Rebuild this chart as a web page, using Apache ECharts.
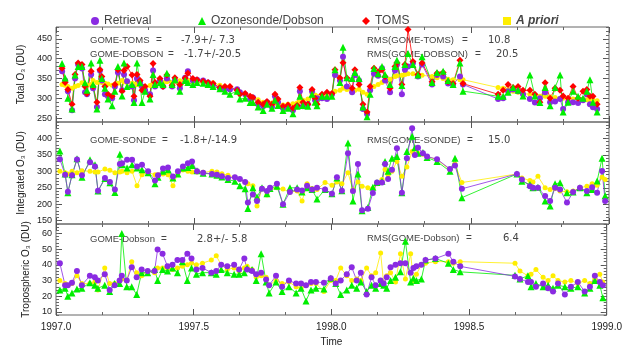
<!DOCTYPE html>
<html>
<head>
<meta charset="utf-8">
<script src="https://cdn.jsdelivr.net/npm/echarts@6/dist/echarts.min.js"></script>
<style>
  html, body { margin: 0; padding: 0; background: #fff; }
  #chart { width: 625px; height: 348px; }
</style>
</head>
<body>
<div id="chart"></div>
<script>
// total ozone panel: GOME retrieval, Dobson, TOMS, a priori
const TIME_TOT = [1997.022,1997.033,1997.043,1997.058,1997.069,1997.080,1997.094,1997.105,1997.112,1997.127,
  1997.134,1997.148,1997.159,1997.166,1997.177,1997.188,1997.203,1997.213,1997.224,1997.239,
  1997.246,1997.257,1997.275,1997.282,1997.293,1997.304,1997.311,1997.322,1997.340,1997.351,
  1997.358,1997.376,1997.387,1997.401,1997.420,1997.430,1997.448,1997.467,1997.477,1997.495,
  1997.510,1997.532,1997.550,1997.568,1997.593,1997.611,1997.629,1997.655,1997.665,1997.684,
  1997.702,1997.712,1997.731,1997.749,1997.763,1997.781,1997.792,1997.803,1997.821,1997.839,
  1997.857,1997.872,1997.882,1997.893,1997.911,1997.926,1997.937,1997.944,1997.962,1997.980,
  1997.998,1998.009,1998.027,1998.038,1998.052,1998.071,1998.081,1998.096,1998.110,1998.125,
  1998.136,1998.150,1998.165,1998.179,1998.190,1998.208,1998.226,1998.233,1998.251,1998.262,
  1998.273,1998.291,1998.309,1998.324,1998.360,1998.378,1998.400,1998.418,1998.436,1998.461,
  1998.472,1998.599,1998.617,1998.635,1998.653,1998.671,1998.689,1998.714,1998.732,1998.750,
  1998.769,1998.787,1998.805,1998.823,1998.834,1998.852,1998.870,1998.888,1998.906,1998.920,
  1998.931,1998.942,1998.957];
const RET_TOT = [368,345,318,270,350,385,375,315,310,360,
  325,278,370,345,310,305,300,330,365,320,
  360,343,330,295,350,340,330,320,310,370,
  330,345,330,350,330,345,325,352,368,345,
  347,345,340,335,325,323,322,323,315,310,
  298,302,285,280,290,278,305,290,275,278,
  270,280,318,280,285,318,295,300,300,298,
  310,359,345,405,330,315,359,345,273,260,
  320,362,357,376,345,315,370,385,310,372,
  380,389,355,385,335,359,355,337,335,355,
  335,298,300,318,322,318,310,298,289,300,
  315,290,292,298,273,290,290,288,295,310,
  285,277,273];
const SON_TOT = [388,351,300,273,359,380,380,339,320,389,
  335,273,396,350,325,298,281,318,380,306,
  389,330,335,289,389,339,289,318,298,360,
  335,339,335,363,335,347,318,345,340,335,
  340,338,335,330,324,318,310,318,298,300,
  289,289,278,269,285,275,295,282,269,275,
  261,280,305,282,280,310,290,281,305,305,
  305,372,340,429,352,350,365,350,278,253,
  310,375,362,380,360,335,380,396,332,385,
  413,385,359,405,340,365,368,345,335,389,
  318,305,305,315,327,320,306,359,306,289,
  327,281,327,359,265,290,318,305,300,318,
  347,290,265];
const TOMS_TOT = [376,340,322,285,360,389,385,330,312,368,
  330,290,372,355,330,310,305,335,372,318,
  370,380,359,305,360,345,320,330,305,388,
  340,350,330,359,333,352,335,351,363,350,
  347,343,340,337,327,330,330,320,310,312,
  305,302,290,285,292,285,310,298,280,283,
  275,282,327,290,285,322,300,285,310,315,
  312,372,351,390,351,325,372,335,285,265,
  330,376,367,372,355,325,380,390,335,385,
  474,393,360,389,342,363,365,342,337,396,
  337,310,320,335,327,330,320,320,310,290,
  339,300,325,320,306,300,330,300,318,322,
  305,305,285];
const APR_TOT = [335,333,330,325,330,332,339,335,333,335,
  345,340,342,340,338,336,333,335,338,345,
  342,340,338,336,335,333,330,330,332,335,
  336,338,340,342,340,342,344,345,345,342,
  340,340,339,339,333,330,326,320,315,310,
  305,300,296,290,290,288,287,285,283,285,
  286,288,292,295,298,312,308,305,303,305,
  308,318,320,325,322,318,320,323,315,310,
  320,330,335,340,345,348,355,357,358,360,
  362,362,360,358,355,352,350,348,347,347,
  347,327,325,322,318,315,312,310,308,305,
  305,303,302,300,300,300,298,298,297,296,
  296,295,294];

// ozonesonde dates, shared by the integrated and tropospheric panels
const TIME_SON = [1997.014,1997.033,1997.043,1997.058,1997.076,1997.094,1997.123,1997.141,1997.152,1997.177,
  1997.195,1997.213,1997.231,1997.239,1997.257,1997.275,1997.293,1997.311,1997.333,1997.358,
  1997.369,1997.387,1997.405,1997.423,1997.441,1997.459,1997.477,1997.492,1997.510,1997.532,
  1997.564,1997.582,1997.600,1997.622,1997.647,1997.665,1997.684,1997.694,1997.712,1997.727,
  1997.745,1997.763,1997.774,1997.799,1997.821,1997.846,1997.872,1997.890,1997.908,1997.926,
  1997.944,1997.973,1997.998,1998.016,1998.034,1998.056,1998.074,1998.092,1998.107,1998.128,
  1998.146,1998.161,1998.179,1998.190,1998.201,1998.215,1998.233,1998.251,1998.269,1998.288,
  1998.298,1998.309,1998.327,1998.342,1998.378,1998.425,1998.443,1998.468,1998.667,1998.685,
  1998.714,1998.725,1998.743,1998.769,1998.787,1998.805,1998.823,1998.848,1998.870,1998.895,
  1998.920,1998.939,1998.957,1998.975,1998.986];
const RET_INT = [337,290,238,288,336,288,328,315,241,280,
  268,245,322,325,335,335,315,320,300,272,
  288,309,312,284,300,315,325,330,300,296,
  292,290,285,280,282,277,268,205,230,210,
  247,240,250,262,200,237,245,242,256,245,
  250,245,232,282,241,355,240,322,182,186,
  234,266,266,322,277,305,370,235,340,431,
  350,372,355,345,337,307,318,247,292,275,
  255,250,250,225,210,250,245,205,237,250,
  240,252,235,301,210];
const SON_INT = [362,292,235,290,338,282,335,320,240,278,
  265,236,352,320,310,320,310,305,296,262,
  282,300,305,280,292,310,312,318,302,294,
  292,288,283,275,270,256,247,187,250,222,
  250,232,248,255,200,250,250,237,250,245,
  216,245,232,280,241,386,210,292,180,190,
  252,266,270,330,300,340,345,235,360,407,
  372,355,357,342,330,300,340,220,292,270,
  260,250,252,210,195,262,265,235,237,250,
  235,245,271,340,226];
const APR_INT = [300,296,292,300,296,302,300,298,298,307,
  303,296,298,300,296,300,256,290,296,290,
  290,292,290,256,295,304,300,298,298,297,
  300,298,293,288,282,276,268,262,256,195,
  248,228,245,250,246,237,240,210,262,248,
  245,266,258,268,262,296,243,268,255,250,
  248,262,275,306,290,300,330,285,313,360,
  350,355,352,345,336,305,322,266,292,280,
  272,268,285,250,245,248,240,238,240,250,
  255,262,258,282,275];
const RET_TRO = [41,27,27,28.6,36,27,33,32,30,34,
  24,27,30,33,30,38.5,32,37,36,36,
  49.7,47,39,40,43,43,47,44,37,38,
  35,36,40,39,40,37,44,37,36,34,
  35,30.6,27,33,26,30,28,28,27,29,
  29,28.6,31.5,28,30,34,38.5,30,35,21,
  32,27,30,28,32,38.4,40,41,41,35,
  38,39,40,43,44,47,42,39,32.6,31,
  29,29,26,28,25,23,28,21,26,29,
  23,26,33,29,27];
const SON_TRO = [24,25,20,22,24.6,25,28.6,27,25,27,
  23,28,28,60,26,26,21,35,35,37,
  30,37,36,38,35,42,30,38,34,35,
  35,34,37,35,34,34,35,38,37,30,
  47,29,22,29,23,26,22,25,17,24,
  25,24.6,31.5,28,21,24,27,25,29,23,
  27,25,28,27,25,30,32,35.5,55,29,
  31.5,30,31,43,44,41,37,35.5,33.3,31,
  33,26,28,26,27,25,27,26,25,26,
  22,25,30,27,19];
const APR_TRO = [30,28,27,28,33,28,28,29,24,38,
  28,28,30,31,30,42,35,33,36,35,
  38,38,38,37,38,39,40,41,40,41,
  43,45.7,40,37,38,36,38,39,37,32,
  33,32,27,30,28,29,26,25,27,28,
  28,23,30,30,38,33,30,31,30,38,
  33,35,47.5,28,33,35,29,47,31,47,
  30,34,40,41,42,42,41,42,41,36,
  33,34,37,32,30,33,30,29,30,28,
  30,28,31,34,29];

const TICKS_TOT = [250, 300, 350, 400, 450];
const TICKS_INT = [150, 200, 250, 300, 350, 400];
const TICKS_TRO = [10, 20, 30, 40, 50, 60];

const C_RET = '#8a2be2', C_SON = '#00ee00', C_TOMS = '#ff0000', C_APR = '#ffee00';
const FONT = 'Liberation Sans';

function pts(t, v) { return t.map((x, i) => [x, v[i]]); }

function ser(name, g, t, v, symbol, size, color) {
  return {
    name: name, type: 'line', xAxisIndex: g, yAxisIndex: 4 * g,
    data: pts(t, v), symbol: symbol, symbolSize: size,
    itemStyle: { color: color }, lineStyle: { color: color, width: 0.8 },
    emphasis: { disabled: true }
  };
}

function xAx(g, pos, labels) {
  return {
    gridIndex: g, type: 'value', min: 1997, max: 1999, interval: 0.5, position: pos,
    axisLine: { show: false }, splitLine: { show: false },
    axisTick: { show: true, inside: true, length: 6, lineStyle: { color: '#555' } },
    minorTick: { show: true, splitNumber: 3, length: 3, lineStyle: { color: '#666' } },
    axisLabel: { show: labels, showMinLabel: true, showMaxLabel: true, margin: 7,
      fontSize: 10, color: '#222', fontFamily: FONT, formatter: v => v.toFixed(1) },
    name: labels ? 'Time' : '', nameLocation: 'middle', nameGap: 22,
    nameTextStyle: { fontSize: 10, color: '#222', fontFamily: FONT }
  };
}

function yMajor(g, min, max, step, ticks, pos, name, gap) {
  return {
    gridIndex: g, type: 'value', min: min, max: max, interval: step, position: pos,
    axisLine: { show: false }, splitLine: { show: false },
    axisTick: { show: true, inside: true, length: 6, customValues: ticks, lineStyle: { color: '#555' } },
    axisLabel: { show: pos === 'left', customValues: ticks, margin: 4, fontSize: 9, color: '#222', fontFamily: FONT },
    name: name || '', nameLocation: 'middle', nameGap: gap || 0,
    nameTextStyle: { fontSize: 10, color: '#222', fontFamily: FONT }
  };
}

function yMinor(g, min, max, step, pos) {
  return {
    gridIndex: g, type: 'value', min: min, max: max, interval: step, position: pos,
    axisLine: { show: false }, splitLine: { show: false },
    axisTick: { show: true, inside: true, length: 3, lineStyle: { color: '#666' } },
    axisLabel: { show: false }
  };
}

// statistics text: label, "=" and number placed where they sit in the original
function note(y, x0, label, xEq, xVal, val) {
  const st = (t, f) => ({ text: t, fill: '#444', font: f, verticalAlign: 'middle' });
  return [
    { type: 'text', x: x0, y: y, z: 1, style: st(label, '9.5px "Liberation Sans"') },
    { type: 'text', x: xEq, y: y, z: 1, style: st('=', '10px "Liberation Sans"') },
    { type: 'text', x: xVal, y: y, z: 1, style: st(val, '10px "DejaVu Sans"') }
  ];
}

function leg(left, name, icon, extra) {
  return {
    left: left, top: 10, itemWidth: 8, itemHeight: 8, selectedMode: false,
    data: [{ name: name, icon: icon }],
    textStyle: Object.assign({ fontSize: 12, color: '#444', fontFamily: FONT }, extra || {})
  };
}

const chart = echarts.init(document.getElementById('chart'), null, { renderer: 'canvas' });
chart.setOption({
  animation: false,
  backgroundColor: '#fff',
  legend: [
    leg(86, 'Retrieval', 'circle'),
    leg(193, 'Ozonesonde/Dobson', 'triangle'),
    leg(357, 'TOMS', 'diamond'),
    leg(498, 'A priori', 'rect', { fontStyle: 'italic', fontWeight: 'bold' })
  ],
  grid: [
    { left: 56, right: 16, top: 27, height: 95, show: true, borderColor: '#666', borderWidth: 1 },
    { left: 56, right: 16, top: 122, height: 102, show: true, borderColor: '#666', borderWidth: 1 },
    { left: 56, right: 16, top: 224, height: 101, show: true, borderColor: '#666', borderWidth: 1 }
  ],
  xAxis: [
    xAx(0, 'bottom', false), xAx(1, 'bottom', false), xAx(2, 'bottom', true),
    xAx(0, 'top', false), xAx(1, 'top', false), xAx(2, 'top', false)
  ],
  yAxis: [
    yMajor(0, 240, 480, 10, TICKS_TOT, 'left', 'Total O₃ (DU)', 26),
    yMinor(0, 240, 480, 10, 'left'),
    yMajor(0, 240, 480, 10, TICKS_TOT, 'right'),
    yMinor(0, 240, 480, 10, 'right'),
    yMajor(1, 140, 450, 10, TICKS_INT, 'left', 'Integrated O₃ (DU)', 21),
    yMinor(1, 140, 450, 10, 'left'),
    yMajor(1, 140, 450, 10, TICKS_INT, 'right'),
    yMinor(1, 140, 450, 10, 'right'),
    yMajor(2, 8, 66, 2, TICKS_TRO, 'left', 'Tropospheric O₃ (DU)', 24),
    yMinor(2, 8, 66, 2, 'left'),
    yMajor(2, 8, 66, 2, TICKS_TRO, 'right'),
    yMinor(2, 8, 66, 2, 'right')
  ],
  series: [
    ser('A priori', 0, TIME_TOT, APR_TOT, 'circle', 5, C_APR),
    ser('Retrieval', 0, TIME_TOT, RET_TOT, 'circle', 6, C_RET),
    ser('TOMS', 0, TIME_TOT, TOMS_TOT, 'diamond', 7, C_TOMS),
    ser('Ozonesonde/Dobson', 0, TIME_TOT, SON_TOT, 'triangle', 7, C_SON),
    ser('A priori', 1, TIME_SON, APR_INT, 'circle', 5, C_APR),
    ser('Ozonesonde/Dobson', 1, TIME_SON, SON_INT, 'triangle', 7, C_SON),
    ser('Retrieval', 1, TIME_SON, RET_INT, 'circle', 6, C_RET),
    ser('A priori', 2, TIME_SON, APR_TRO, 'circle', 5, C_APR),
    ser('Ozonesonde/Dobson', 2, TIME_SON, SON_TRO, 'triangle', 7, C_SON),
    ser('Retrieval', 2, TIME_SON, RET_TRO, 'circle', 6, C_RET)
  ],
  graphic: [].concat(
    note(40, 90, 'GOME-TOMS', 156, 181, '-7.9+/- 7.3'),
    note(54, 90, 'GOME-DOBSON', 168, 184, '-1.7+/-20.5'),
    note(40, 367, 'RMS(GOME-TOMS)', 462, 488, '10.8'),
    note(54, 367, 'RMS(GOME-DOBSON)', 475, 496, '20.5'),
    note(140, 90, 'GOME-SONDE', 162, 180, '-1.8+/-14.9'),
    note(140, 367, 'RMS(GOME-SONDE)', 467, 488, '15.0'),
    note(239, 90, 'GOME-Dobson', 161, 197, '2.8+/- 5.8'),
    note(238, 367, 'RMS(GOME-Dobson)', 466, 503, '6.4')
  )
});
</script>
</body>
</html>
